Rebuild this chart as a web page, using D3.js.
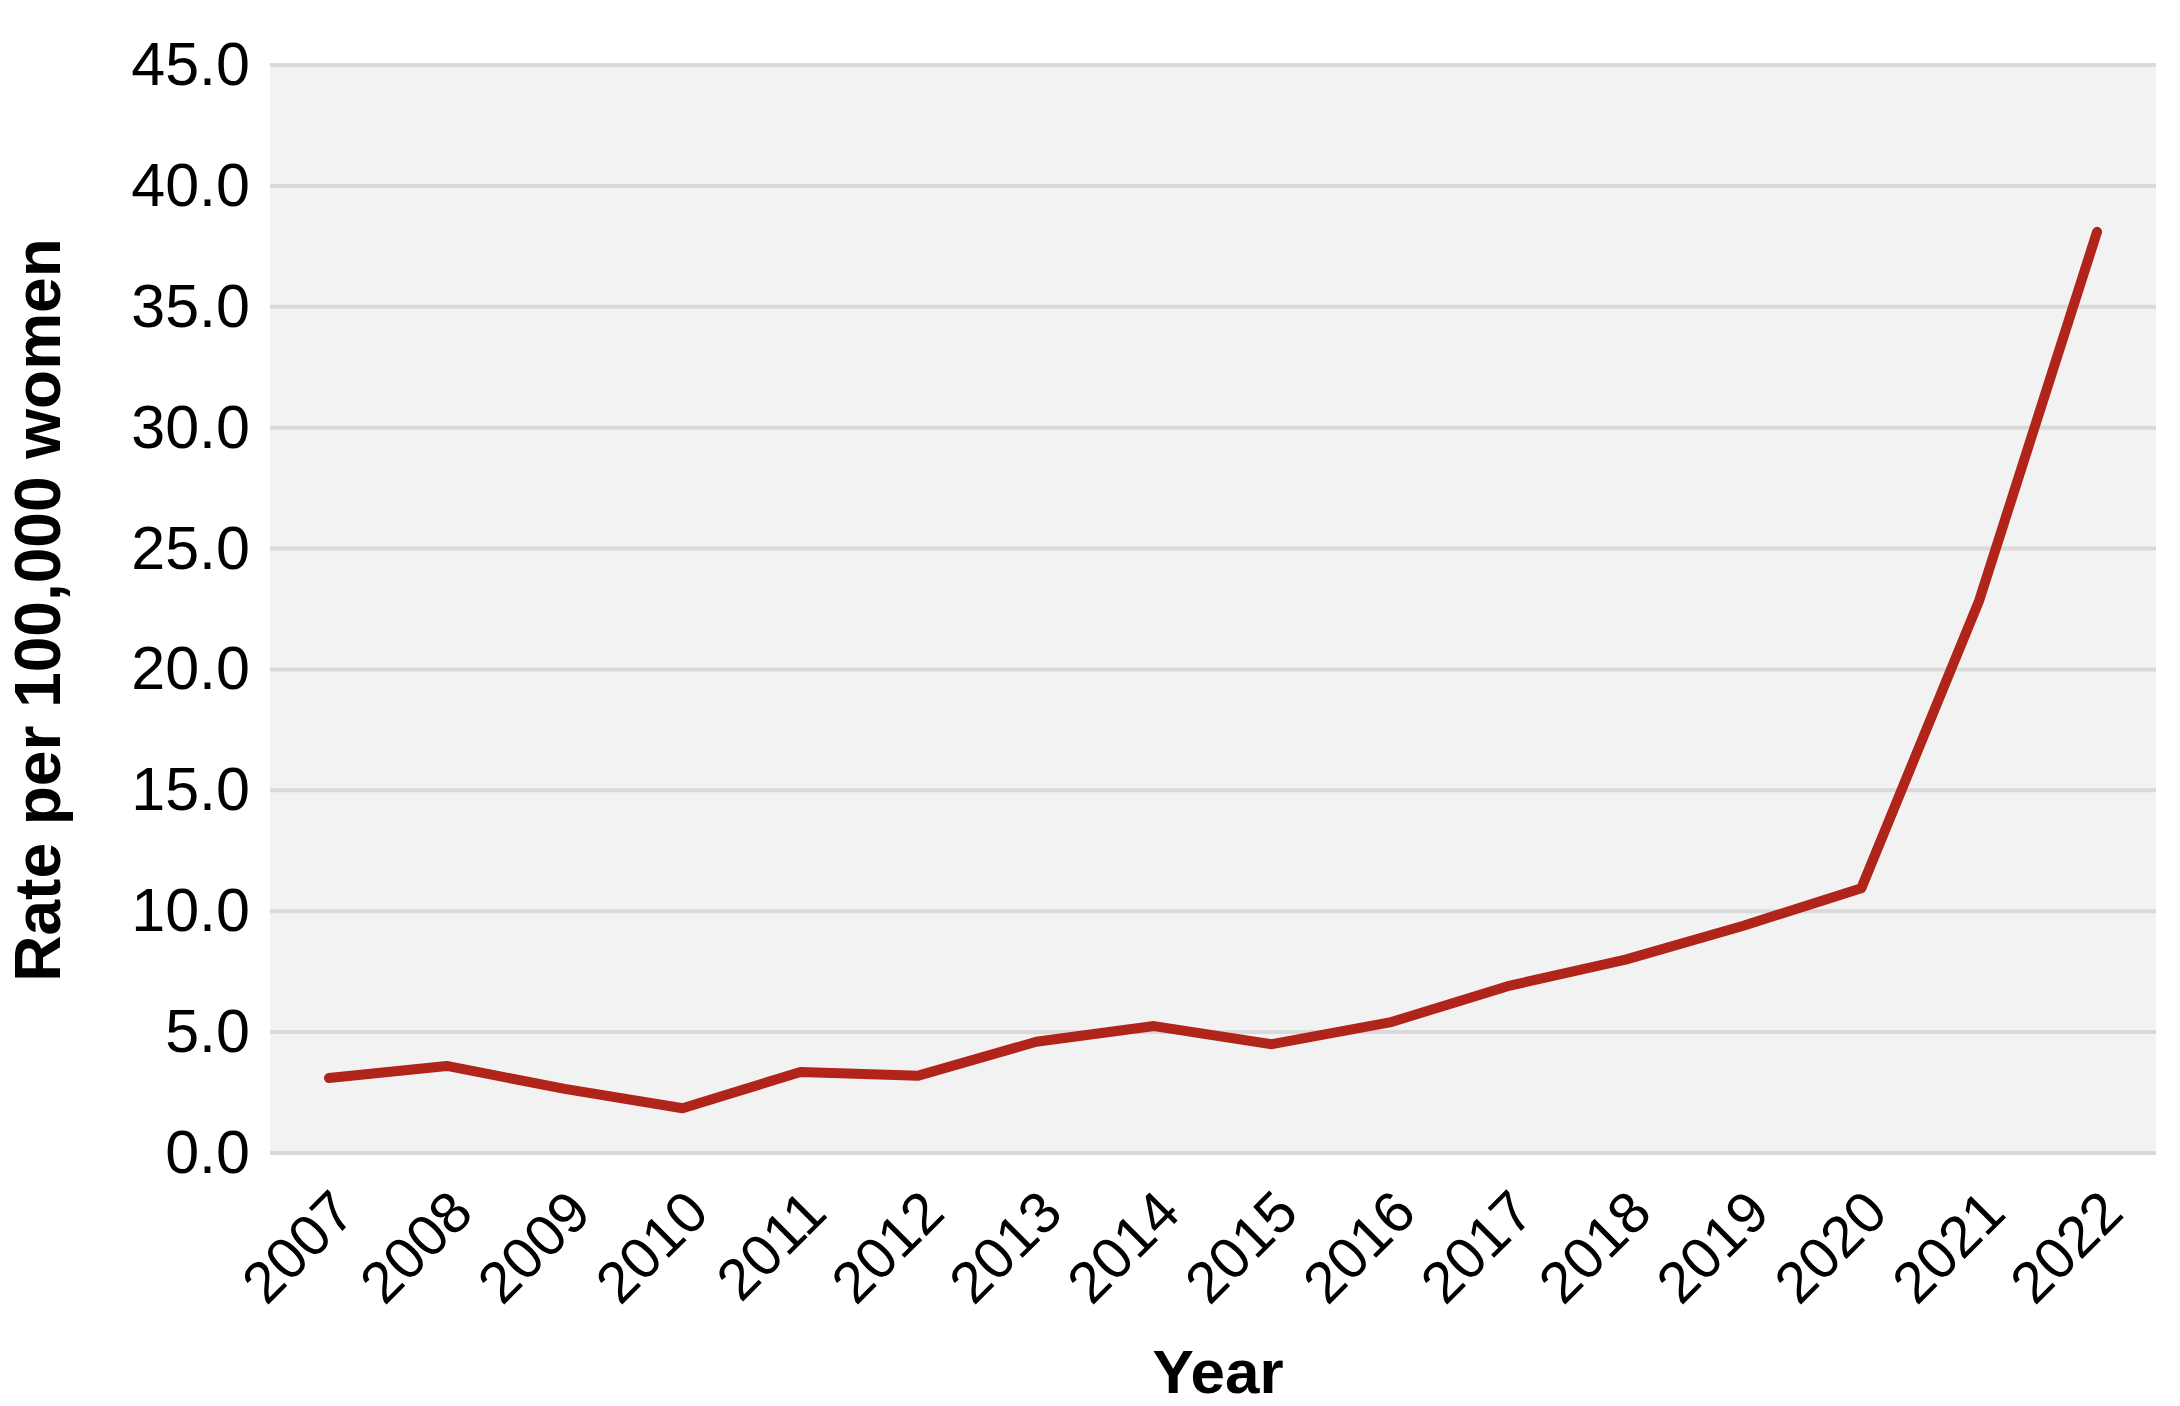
<!DOCTYPE html>
<html>
<head>
<meta charset="utf-8">
<script src="https://cdn.jsdelivr.net/npm/d3@7"></script>
<style>
  body { margin: 0; background: #fff; }
  text { font-family: "Liberation Sans", Arial, sans-serif; }
</style>
</head>
<body>
<div id="chart"></div>
<script>
// Data
const years = ["2007","2008","2009","2010","2011","2012","2013","2014","2015","2016","2017","2018","2019","2020","2021","2022"];
const rates = [3.1, 3.6, 2.65, 1.85, 3.35, 3.2, 4.6, 5.25, 4.5, 5.4, 6.9, 8.0, 9.4, 10.95, 22.85, 38.1];
const yTicks = [0, 5, 10, 15, 20, 25, 30, 35, 40, 45];

const W = 2180, H = 1406;
const margin = {top: 65, right: 24, bottom: 253, left: 270};
const width = W - margin.left - margin.right;
const height = H - margin.top - margin.bottom;

const svg = d3.select("#chart").append("svg")
  .attr("width", W).attr("height", H);

const g = svg.append("g")
  .attr("transform", "translate(" + margin.left + "," + margin.top + ")");

// Scales
const x = d3.scalePoint().domain(years).range([0, width]).padding(0.5);
const y = d3.scaleLinear().domain([0, 45]).range([height, 0]);

// Plot background
g.append("rect")
  .attr("width", width).attr("height", height)
  .attr("fill", "#f2f2f2");

// Gridlines
g.selectAll(".grid").data(yTicks).enter().append("line")
  .attr("x1", 0).attr("x2", width)
  .attr("y1", d => y(d)).attr("y2", d => y(d))
  .attr("stroke", "#d9d9d9").attr("stroke-width", 4);

// Y axis
const yAxis = g.append("g")
  .call(d3.axisLeft(y).tickValues(yTicks).tickFormat(d3.format(".1f")).tickSize(0).tickPadding(20));
yAxis.select(".domain").remove();
yAxis.selectAll("text").attr("font-size", 61).attr("fill", "#000")
  .style("font-family", "'Liberation Sans', Arial, sans-serif");

// X axis
const xAxis = g.append("g")
  .attr("transform", "translate(0," + height + ")")
  .call(d3.axisBottom(x).tickSize(0).tickPadding(0));
xAxis.select(".domain").remove();
xAxis.selectAll("text")
  .attr("font-size", 58).attr("fill", "#000")
  .style("font-family", "'Liberation Sans', Arial, sans-serif")
  .attr("text-anchor", "end")
  .attr("dy", "0.35em")
  .attr("transform", "translate(14,48) rotate(-45)");

// Line
const line = d3.line()
  .x((d, i) => x(years[i]))
  .y(d => y(d));

g.append("path")
  .datum(rates)
  .attr("d", line)
  .attr("fill", "none")
  .attr("stroke", "#b0241a")
  .attr("stroke-width", 10)
  .attr("stroke-linecap", "round")
  .attr("stroke-linejoin", "round");

// Axis titles
svg.append("text")
  .attr("x", 1218).attr("y", 1393)
  .attr("text-anchor", "middle")
  .attr("font-size", 62).attr("font-weight", "bold")
  .text("Year");

svg.append("text")
  .attr("transform", "translate(60,610) rotate(-90)")
  .attr("text-anchor", "middle")
  .attr("font-size", 64).attr("font-weight", "bold")
  .text("Rate per 100,000 women");
</script>
</body>
</html>
